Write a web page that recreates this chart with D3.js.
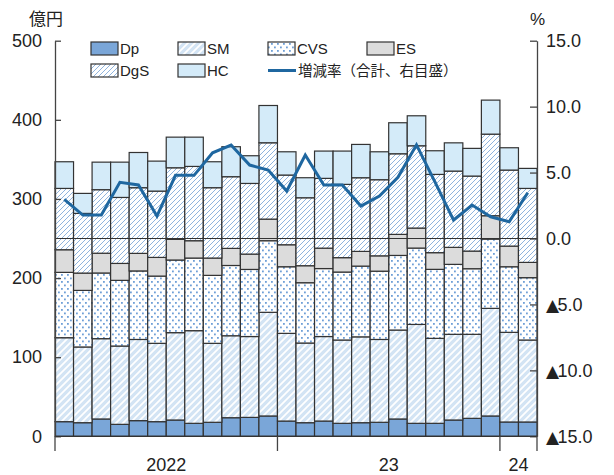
<!DOCTYPE html>
<html><head><meta charset="utf-8">
<script src="https://cdn.jsdelivr.net/npm/d3@7"></script>
<style>
html,body{margin:0;padding:0;background:#fff;}
svg text{font-family:"Liberation Sans",Arial,sans-serif;fill:#222;}
.jp{font-family:"Noto Sans CJK JP","Liberation Sans",sans-serif;}
</style></head>
<body><svg id="c" width="614" height="475"></svg>
<script>
const months = ["2022-01","2022-02","2022-03","2022-04","2022-05","2022-06","2022-07","2022-08","2022-09","2022-10","2022-11","2022-12",
"2023-01","2023-02","2023-03","2023-04","2023-05","2023-06","2023-07","2023-08","2023-09","2023-10","2023-11","2023-12",
"2024-01","2024-02"];
const yearLabels = ["2022","23","24"];
const seriesNames = ["Dp","SM","CVS","ES","DgS","HC"];
const dp  = [18.5,17.2,21.9,15.1,19.8,18.5,20.6,16.4,17.7,23.5,23.9,25.7,19.3,17.2,19.3,16.4,17.2,17.7,21.9,16.4,16.4,20.6,22.7,25.7,18.1,18.1];
const sm  = [106.1,95.7,101.5,99.0,102.6,99.0,110.4,117.1,99.8,103.6,102.2,131.0,110.8,100.7,106.8,105.3,108.5,104.7,112.4,125.0,107.4,108.3,106.2,136.0,113.3,103.6];
const cvs = [82.6,71.5,83.0,83.0,86.6,85.0,91.8,91.8,85.9,88.8,84.8,90.5,84.2,76.2,85.9,85.9,89.4,86.3,94.3,96.5,87.2,88.4,82.9,87.6,82.9,78.8];
const es  = [28.6,21.9,25.0,21.4,22.2,23.6,26.1,21.9,21.9,21.6,19.4,27.3,27.8,21.5,25.8,18.2,18.6,19.4,26.6,25.3,21.1,21.5,22.3,29.5,26.1,19.3];
const dgs = [77.5,75.4,80.3,83.4,83.0,83.8,90.5,93.9,88.9,90.6,89.3,96.5,88.1,85.9,88.2,92.6,93.1,96.2,101.9,104.0,98.9,96.4,94.8,103.1,96.1,93.5];
const hc  = [33.7,25.3,34.8,44.6,44.5,37.9,38.7,37.0,32.8,37.9,35.0,47.1,29.4,25.3,34.5,42.1,42.1,35.3,39.2,37.9,29.9,35.7,35.0,43.0,28.2,25.3];
const growth = [2.97,1.78,1.78,4.26,4.06,1.70,4.79,4.79,6.50,7.09,5.57,5.19,3.60,6.33,4.06,4.06,2.46,3.22,4.64,7.10,4.27,1.40,2.54,1.65,1.27,3.47];
const leftTicks = [0,100,200,300,400,500];
const rightTicks = [-15,-10,-5,0,5,10,15];
const lineLabel = "増減率（合計、右目盛）";

const svg = d3.select("#c");
const defs = svg.append("defs");
let p = defs.append("pattern").attr("id","pSM").attr("patternUnits","userSpaceOnUse").attr("width",7).attr("height",7);
p.append("rect").attr("width",7).attr("height",7).attr("fill","#d3e4f4");
p.append("path").attr("d","M-1,1 L1,-1 M0,7 L7,0 M6,8 L8,6").attr("stroke","#fff").attr("stroke-width",1.8);
p = defs.append("pattern").attr("id","pDgS").attr("patternUnits","userSpaceOnUse").attr("width",5).attr("height",5);
p.append("rect").attr("width",5).attr("height",5).attr("fill","#fff");
p.append("path").attr("d","M-1,1 L1,-1 M0,5 L5,0 M4,6 L6,4").attr("stroke","#8fb4de").attr("stroke-width",1);
p = defs.append("pattern").attr("id","pCVS").attr("patternUnits","userSpaceOnUse").attr("width",6).attr("height",7);
p.append("rect").attr("width",6).attr("height",7).attr("fill","#fff");
p.append("rect").attr("x",1).attr("y",1).attr("width",1.8).attr("height",1.8).attr("fill","#6f9fd7");
p.append("rect").attr("x",4).attr("y",4.5).attr("width",1.8).attr("height",1.8).attr("fill","#6f9fd7");

const fills = {Dp:"#7aa6d8", SM:"url(#pSM)", CVS:"url(#pCVS)", ES:"#dcdcdc", DgS:"url(#pDgS)", HC:"#d4ebf9"};

const x = d3.scaleBand().domain(months).range([55,537]).paddingInner(0).paddingOuter(0);
const y = d3.scaleLinear().domain([0,500]).range([436.3,40.7]);
const yR = d3.scaleLinear().domain([-15,15]).range([436.3,40.7]);

const vals = {Dp:dp, SM:sm, CVS:cvs, ES:es, DgS:dgs, HC:hc};
const rows = months.map((m,i)=>{const r={month:m}; seriesNames.forEach(k=>r[k]=vals[k][i]); return r;});
const stacked = d3.stack().keys(seriesNames)(rows);

const g = svg.append("g");
stacked.forEach(layer=>{
  g.append("g").selectAll("rect").data(layer).join("rect")
   .attr("x",d=>x(d.data.month)).attr("width",x.bandwidth())
   .attr("y",d=>y(d[1])).attr("height",d=>y(d[0])-y(d[1]))
   .attr("fill",fills[layer.key]).attr("stroke","#333").attr("stroke-width",1.2);
});

svg.append("line").attr("x1",55).attr("x2",537).attr("y1",yR(0)).attr("y2",yR(0)).attr("stroke","#333").attr("stroke-width",1);

svg.append("path").datum(growth)
  .attr("d",d3.line().x((d,i)=>x(months[i])+x.bandwidth()/2).y(d=>yR(d)))
  .attr("fill","none").attr("stroke","#1f67a0").attr("stroke-width",3).attr("stroke-linejoin","miter");

const axL = svg.append("g").attr("transform","translate(55,0)")
  .call(d3.axisLeft(y).tickValues(leftTicks).tickSizeInner(-6).tickSizeOuter(0).tickPadding(13).tickFormat(d3.format("d")));
const axR = svg.append("g").attr("transform","translate(537,0)")
  .call(d3.axisRight(yR).tickValues(rightTicks).tickSizeInner(-7).tickSizeOuter(0).tickPadding(9)
    .tickFormat(d=> Math.abs(d).toFixed(1)));
[axL,axR].forEach(a=>{
  a.selectAll("path.domain").attr("stroke","#444").attr("stroke-width",1.3);
  a.selectAll(".tick line").attr("stroke","#444").attr("stroke-width",1.3);
  a.selectAll(".tick text").attr("font-size",18).attr("font-family","Liberation Sans, Arial, sans-serif").attr("fill","#222");
});
// negative marks as triangles prefixed
axR.selectAll(".tick").filter(d=>d<0).select("text").each(function(d){
  const t = d3.select(this); const num = t.text(); t.text(null);
  t.append("tspan").attr("font-family","DejaVu Sans").attr("font-size",17).text("▲");
  t.append("tspan").attr("dx",-1.5).text(num);
});

svg.append("line").attr("x1",55).attr("x2",537).attr("y1",436.3).attr("y2",436.3).attr("stroke","#333").attr("stroke-width",1.3);
const yearStarts = [];
months.forEach((m,i)=>{ if(i===0 || m.slice(0,4)!==months[i-1].slice(0,4)) yearStarts.push(i); });
const seps = yearStarts.map(i=>x(months[i])).concat([537]);
seps.forEach(sx=>svg.append("line").attr("x1",sx).attr("x2",sx).attr("y1",436.3).attr("y2",451).attr("stroke","#444").attr("stroke-width",1.3));
yearStarts.forEach((s,k)=>{
  const e = k+1<yearStarts.length ? yearStarts[k+1] : months.length;
  const cx = (x(months[s]) + x(months[e-1])+x.bandwidth())/2;
  svg.append("text").attr("x",cx).attr("y",471).attr("text-anchor","middle").attr("font-size",18).text(yearLabels[k]);
});

svg.append("text").attr("class","jp").attr("x",29).attr("y",25).attr("font-size",17).text("億円");
svg.append("text").attr("x",530).attr("y",25).attr("font-size",17).text("%");

const leg = [
  {k:"Dp", x:91, y:42},{k:"SM", x:178, y:42},{k:"CVS", x:268, y:42},{k:"ES", x:367, y:42},
  {k:"DgS", x:91, y:64},{k:"HC", x:178, y:64}
];
leg.forEach(l=>{
  svg.append("rect").attr("x",l.x).attr("y",l.y).attr("width",27).attr("height",13).attr("fill",fills[l.k]).attr("stroke","#333").attr("stroke-width",1.2);
  svg.append("text").attr("x",l.x+29).attr("y",l.y+12).attr("font-size",15).text(l.k);
});
svg.append("line").attr("x1",268).attr("x2",296).attr("y1",70.5).attr("y2",70.5).attr("stroke","#1f67a0").attr("stroke-width",3);
svg.append("text").attr("class","jp").attr("x",298).attr("y",76).attr("font-size",14.5).text(lineLabel);
</script></body></html>
